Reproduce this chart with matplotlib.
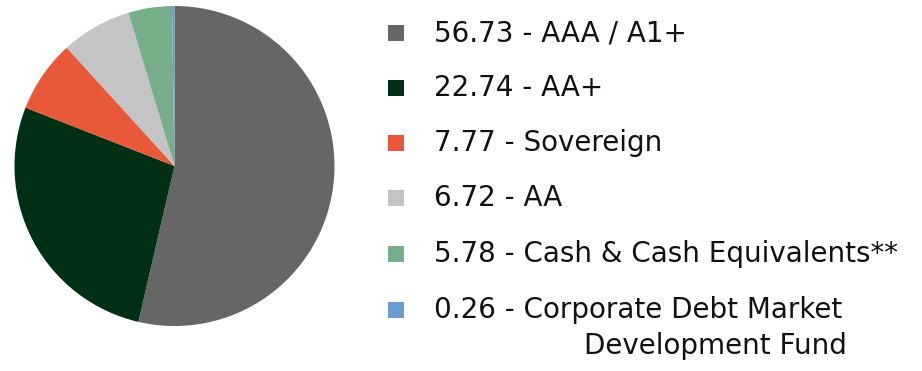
import matplotlib

matplotlib.use("Agg")
import matplotlib.pyplot as plt

# values printed in the legend
values = [56.73, 22.74, 7.77, 6.72, 5.78, 0.26]
# slice sizes as drawn in the pie
slice_values = [53.6, 27.3, 7.3, 7.1, 4.4, 0.25]
labels = [
    "AAA / A1+",
    "AA+",
    "Sovereign",
    "AA",
    "Cash & Cash Equivalents**",
    "Corporate Debt Market\nDevelopment Fund",
]
colors = ["#666666", "#003013", "#E8593A", "#C4C4C4", "#76AE8A", "#6A9BD1"]

W, H = 922, 371
fig = plt.figure(figsize=(W / 100, H / 100), dpi=100)

# pie axes in pixel box: centre (174.5, 166), radius 160
cx, cy, r = 174.5, 166, 160
ax = fig.add_axes([(cx - r) / W, 1 - (cy + r) / H, 2 * r / W, 2 * r / H])
ax.pie(slice_values, colors=colors, startangle=90, counterclock=False,
       radius=1.0, wedgeprops={"linewidth": 0})
ax.set_xlim(-1, 1)
ax.set_ylim(-1, 1)
ax.set_aspect("equal")
ax.axis("off")

# legend drawn in figure pixel coordinates
lg = fig.add_axes([0, 0, 1, 1])
lg.set_xlim(0, W)
lg.set_ylim(H, 0)
lg.axis("off")
row_y = [33, 88, 143, 198, 254, 310]
font = dict(fontsize=20, family="DejaVu Sans", va="center", ha="left",
            color="#111111")
for y, v, lab, c in zip(row_y, values, labels, colors):
    lg.add_patch(plt.Rectangle((388, y - 8), 16, 16, color=c, lw=0))
    first, *rest = lab.split("\n")
    lg.text(434, y, f"{v:.2f} - {first}", **font)
    for i, line in enumerate(rest):
        lg.text(584, y + 36 * (i + 1), line, **font)

fig.savefig("out.png", dpi=100)
